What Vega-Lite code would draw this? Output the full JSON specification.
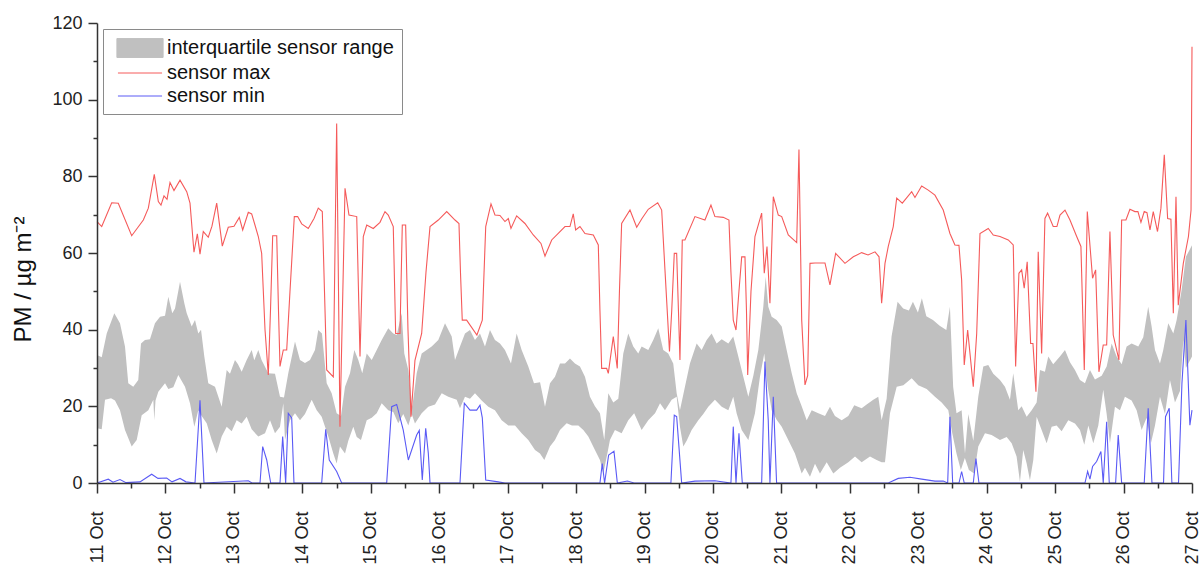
{
 "$schema": "https://vega.github.io/schema/vega-lite/v6.json",
 "width": 1095, "height": 460,
 "autosize": "none",
 "padding": {"left": 97, "top": 23, "right": 8, "bottom": 84},
 "background": "white",
 "config": {"view": {"stroke": null}, "font": "Liberation Sans"},
 "datasets": {
  "q3": [
   {"d":11.0,"v":33.4},{"d":11.069,"v":32.8},{"d":11.142,"v":39},{"d":11.253,"v":44.3},{"d":11.336,"v":41.7},{"d":11.409,"v":35.6},{"d":11.457,"v":26},{"d":11.53,"v":25.1},{"d":11.603,"v":26.9},{"d":11.643,"v":36.4},{"d":11.701,"v":37.3},{"d":11.774,"v":37.5},{"d":11.847,"v":41.7},{"d":11.921,"v":43.4},{"d":11.994,"v":43.6},{"d":12.042,"v":48.6},{"d":12.1,"v":44.3},{"d":12.14,"v":45.5},{"d":12.213,"v":52.5},{"d":12.276,"v":46.9},{"d":12.311,"v":44.3},{"d":12.384,"v":40.8},{"d":12.432,"v":42.5},{"d":12.48,"v":39},{"d":12.52,"v":40},{"d":12.568,"v":33},{"d":12.626,"v":26},{"d":12.724,"v":25.1},{"d":12.822,"v":19.9},{"d":12.895,"v":29.5},{"d":12.943,"v":28.5},{"d":13.016,"v":32.1},{"d":13.06,"v":31},{"d":13.114,"v":29},{"d":13.187,"v":32.1},{"d":13.26,"v":34.7},{"d":13.298,"v":32},{"d":13.357,"v":34.7},{"d":13.406,"v":32},{"d":13.503,"v":28.6},{"d":13.601,"v":28.5},{"d":13.674,"v":22.5},{"d":13.732,"v":22.3},{"d":13.795,"v":28.6},{"d":13.893,"v":36.9},{"d":13.966,"v":32.1},{"d":14.039,"v":31.3},{"d":14.112,"v":32.1},{"d":14.185,"v":34.7},{"d":14.233,"v":39.9},{"d":14.287,"v":39},{"d":14.356,"v":26},{"d":14.429,"v":23.4},{"d":14.502,"v":18.2},{"d":14.565,"v":17.5},{"d":14.624,"v":25.1},{"d":14.697,"v":28.6},{"d":14.76,"v":34.7},{"d":14.818,"v":32.1},{"d":14.876,"v":28.6},{"d":14.941,"v":33.8},{"d":15.014,"v":32.1},{"d":15.087,"v":34.7},{"d":15.16,"v":37.3},{"d":15.256,"v":40.4},{"d":15.329,"v":39},{"d":15.379,"v":38.6},{"d":15.452,"v":44.3},{"d":15.49,"v":33.8},{"d":15.549,"v":29.5},{"d":15.607,"v":19.9},{"d":15.671,"v":28.6},{"d":15.744,"v":33.8},{"d":15.817,"v":34.7},{"d":15.89,"v":35.6},{"d":15.987,"v":37.3},{"d":16.085,"v":41.7},{"d":16.183,"v":38.2},{"d":16.231,"v":32.1},{"d":16.304,"v":35.6},{"d":16.377,"v":39},{"d":16.45,"v":39.9},{"d":16.523,"v":37.3},{"d":16.596,"v":39},{"d":16.669,"v":35.6},{"d":16.742,"v":39.9},{"d":16.815,"v":37.3},{"d":16.888,"v":36.4},{"d":16.961,"v":34.7},{"d":17.049,"v":31.2},{"d":17.132,"v":39},{"d":17.205,"v":34.7},{"d":17.302,"v":30.4},{"d":17.385,"v":26},{"d":17.474,"v":26.3},{"d":17.546,"v":19.9},{"d":17.619,"v":26},{"d":17.692,"v":27.7},{"d":17.765,"v":31.2},{"d":17.838,"v":31.2},{"d":17.911,"v":32.5},{"d":17.984,"v":31.2},{"d":18.057,"v":30.4},{"d":18.13,"v":27.7},{"d":18.203,"v":22.5},{"d":18.276,"v":20},{"d":18.349,"v":18.2},{"d":18.412,"v":11.2},{"d":18.471,"v":23.4},{"d":18.544,"v":21},{"d":18.617,"v":22},{"d":18.69,"v":33.8},{"d":18.763,"v":39},{"d":18.836,"v":35.6},{"d":18.909,"v":33.8},{"d":18.958,"v":35.6},{"d":19.055,"v":34.7},{"d":19.128,"v":37.3},{"d":19.201,"v":40.4},{"d":19.274,"v":34.7},{"d":19.347,"v":33.8},{"d":19.42,"v":31.2},{"d":19.47,"v":23.4},{"d":19.518,"v":19},{"d":19.591,"v":25.1},{"d":19.664,"v":31.2},{"d":19.762,"v":36.4},{"d":19.835,"v":34.7},{"d":19.908,"v":37.3},{"d":19.981,"v":39},{"d":20.054,"v":36.4},{"d":20.128,"v":37.5},{"d":20.225,"v":36.4},{"d":20.297,"v":38.2},{"d":20.371,"v":33},{"d":20.444,"v":27.7},{"d":20.517,"v":22.5},{"d":20.59,"v":28},{"d":20.663,"v":34.7},{"d":20.736,"v":46},{"d":20.771,"v":53.8},{"d":20.809,"v":46},{"d":20.858,"v":43.4},{"d":20.931,"v":42.5},{"d":21.005,"v":40.8},{"d":21.077,"v":34.7},{"d":21.151,"v":28.6},{"d":21.224,"v":23.4},{"d":21.297,"v":20},{"d":21.37,"v":16.4},{"d":21.443,"v":19},{"d":21.54,"v":18.2},{"d":21.637,"v":17.5},{"d":21.71,"v":19.9},{"d":21.783,"v":17.5},{"d":21.881,"v":16.4},{"d":21.978,"v":17.5},{"d":22.065,"v":20.3},{"d":22.173,"v":19.5},{"d":22.246,"v":20.5},{"d":22.343,"v":21.7},{"d":22.416,"v":22.5},{"d":22.465,"v":16.4},{"d":22.538,"v":22},{"d":22.61,"v":38.2},{"d":22.698,"v":47.3},{"d":22.78,"v":45.5},{"d":22.863,"v":45},{"d":22.922,"v":47.3},{"d":22.995,"v":44.5},{"d":23.053,"v":48.2},{"d":23.118,"v":43.5},{"d":23.215,"v":42.5},{"d":23.313,"v":41},{"d":23.41,"v":39.9},{"d":23.463,"v":46},{"d":23.51,"v":25.1},{"d":23.559,"v":18.2},{"d":23.634,"v":19},{"d":23.683,"v":7.7},{"d":23.731,"v":18},{"d":23.804,"v":11},{"d":23.877,"v":22.5},{"d":23.95,"v":30.4},{"d":24.023,"v":30.8},{"d":24.096,"v":28.5},{"d":24.194,"v":26.9},{"d":24.267,"v":25.1},{"d":24.34,"v":21.7},{"d":24.388,"v":28.6},{"d":24.461,"v":19},{"d":24.511,"v":20},{"d":24.584,"v":17.3},{"d":24.657,"v":19},{"d":24.73,"v":21},{"d":24.778,"v":29.5},{"d":24.851,"v":29},{"d":24.9,"v":33},{"d":24.972,"v":31},{"d":25.07,"v":33},{"d":25.144,"v":34.7},{"d":25.217,"v":31.5},{"d":25.29,"v":29.5},{"d":25.363,"v":26.9},{"d":25.436,"v":26},{"d":25.509,"v":29.5},{"d":25.582,"v":27},{"d":25.68,"v":28},{"d":25.753,"v":30.4},{"d":25.826,"v":36.4},{"d":25.899,"v":33},{"d":25.972,"v":31},{"d":26.045,"v":35.6},{"d":26.118,"v":36.4},{"d":26.215,"v":35.6},{"d":26.288,"v":38},{"d":26.36,"v":46},{"d":26.41,"v":40.8},{"d":26.459,"v":34.7},{"d":26.532,"v":31.2},{"d":26.58,"v":34.7},{"d":26.653,"v":41.7},{"d":26.727,"v":39},{"d":26.776,"v":42.5},{"d":26.849,"v":50.4},{"d":26.911,"v":59},{"d":27.0,"v":62}
  ],
  "q1": [
   {"d":11.0,"v":14.3},{"d":11.069,"v":14},{"d":11.117,"v":21.7},{"d":11.205,"v":22.1},{"d":11.263,"v":21.5},{"d":11.336,"v":19},{"d":11.409,"v":13.8},{"d":11.507,"v":9.5},{"d":11.58,"v":11.2},{"d":11.653,"v":17.7},{"d":11.75,"v":19},{"d":11.823,"v":21.7},{"d":11.837,"v":16.4},{"d":11.855,"v":21.5},{"d":11.896,"v":23.8},{"d":11.994,"v":26},{"d":12.042,"v":24.5},{"d":12.115,"v":25},{"d":12.188,"v":28.2},{"d":12.286,"v":25.1},{"d":12.359,"v":20.8},{"d":12.422,"v":14.7},{"d":12.48,"v":19},{"d":12.53,"v":17.5},{"d":12.603,"v":15.6},{"d":12.676,"v":11.2},{"d":12.749,"v":7.7},{"d":12.822,"v":12.1},{"d":12.895,"v":14.7},{"d":12.968,"v":13.5},{"d":13.041,"v":16.4},{"d":13.114,"v":15.5},{"d":13.187,"v":17.3},{"d":13.26,"v":14},{"d":13.357,"v":12.1},{"d":13.455,"v":13},{"d":13.528,"v":16.4},{"d":13.601,"v":13},{"d":13.674,"v":14.7},{"d":13.722,"v":20.8},{"d":13.747,"v":11.2},{"d":13.82,"v":16.4},{"d":13.893,"v":18.2},{"d":13.966,"v":16.4},{"d":14.039,"v":18},{"d":14.137,"v":21.7},{"d":14.21,"v":19},{"d":14.283,"v":17.3},{"d":14.38,"v":12.1},{"d":14.453,"v":7.7},{"d":14.502,"v":5.1},{"d":14.55,"v":9.5},{"d":14.624,"v":7.7},{"d":14.672,"v":11},{"d":14.745,"v":14.7},{"d":14.795,"v":12},{"d":14.857,"v":11.2},{"d":14.941,"v":16.4},{"d":15.014,"v":17},{"d":15.087,"v":18.2},{"d":15.16,"v":20.8},{"d":15.256,"v":19},{"d":15.329,"v":18.5},{"d":15.402,"v":15.6},{"d":15.475,"v":18},{"d":15.549,"v":15},{"d":15.598,"v":18},{"d":15.646,"v":15.5},{"d":15.744,"v":18.2},{"d":15.841,"v":19.9},{"d":15.939,"v":20.5},{"d":16.037,"v":23.4},{"d":16.133,"v":22.5},{"d":16.256,"v":21.7},{"d":16.304,"v":19.5},{"d":16.377,"v":22.5},{"d":16.45,"v":22},{"d":16.523,"v":23.4},{"d":16.621,"v":21.5},{"d":16.718,"v":19.9},{"d":16.815,"v":19},{"d":16.913,"v":16.4},{"d":17.01,"v":15},{"d":17.108,"v":15},{"d":17.205,"v":13},{"d":17.302,"v":11.2},{"d":17.4,"v":8.6},{"d":17.473,"v":7.7},{"d":17.536,"v":6},{"d":17.619,"v":9.5},{"d":17.692,"v":11.2},{"d":17.765,"v":13.8},{"d":17.863,"v":15.6},{"d":17.94,"v":15},{"d":18.033,"v":15},{"d":18.106,"v":13.8},{"d":18.179,"v":12.1},{"d":18.276,"v":8.6},{"d":18.349,"v":6},{"d":18.398,"v":2.5},{"d":18.461,"v":8},{"d":18.495,"v":11.2},{"d":18.568,"v":13.8},{"d":18.666,"v":13},{"d":18.763,"v":16.4},{"d":18.849,"v":18.2},{"d":18.958,"v":13.8},{"d":19.055,"v":16.4},{"d":19.154,"v":18.2},{"d":19.227,"v":20.8},{"d":19.299,"v":19},{"d":19.397,"v":21.7},{"d":19.47,"v":22.5},{"d":19.518,"v":14.7},{"d":19.567,"v":9.5},{"d":19.616,"v":11},{"d":19.689,"v":13.8},{"d":19.786,"v":16.4},{"d":19.859,"v":18},{"d":19.932,"v":19.9},{"d":20.029,"v":21.7},{"d":20.128,"v":19.9},{"d":20.225,"v":19},{"d":20.297,"v":22.5},{"d":20.346,"v":18.2},{"d":20.42,"v":13.8},{"d":20.517,"v":11.2},{"d":20.614,"v":18.2},{"d":20.687,"v":27.7},{"d":20.75,"v":33.8},{"d":20.8,"v":25.1},{"d":20.858,"v":19},{"d":20.931,"v":16.5},{"d":21.005,"v":14.7},{"d":21.101,"v":11.2},{"d":21.198,"v":7.7},{"d":21.297,"v":2.5},{"d":21.345,"v":4},{"d":21.418,"v":1.6},{"d":21.491,"v":5},{"d":21.564,"v":2.5},{"d":21.662,"v":5.4},{"d":21.759,"v":2.5},{"d":21.856,"v":4},{"d":21.978,"v":5.4},{"d":22.076,"v":6.9},{"d":22.173,"v":5.4},{"d":22.295,"v":6.9},{"d":22.392,"v":6},{"d":22.465,"v":5.4},{"d":22.514,"v":5.4},{"d":22.587,"v":18.2},{"d":22.685,"v":25.1},{"d":22.782,"v":25.5},{"d":22.904,"v":27.3},{"d":23.0,"v":25.5},{"d":23.123,"v":24.5},{"d":23.244,"v":22.5},{"d":23.342,"v":21},{"d":23.439,"v":19},{"d":23.497,"v":13},{"d":23.559,"v":7.7},{"d":23.622,"v":3.4},{"d":23.681,"v":6.5},{"d":23.74,"v":3.4},{"d":23.818,"v":2.5},{"d":23.877,"v":9.5},{"d":23.975,"v":13},{"d":24.072,"v":12.5},{"d":24.194,"v":11.2},{"d":24.292,"v":12},{"d":24.365,"v":10.4},{"d":24.437,"v":6.9},{"d":24.486,"v":0.3},{"d":24.534,"v":8.6},{"d":24.584,"v":5.1},{"d":24.632,"v":0.7},{"d":24.681,"v":6},{"d":24.73,"v":17.3},{"d":24.803,"v":13.8},{"d":24.876,"v":10.4},{"d":24.949,"v":14.7},{"d":25.022,"v":15},{"d":25.095,"v":13.5},{"d":25.192,"v":16.4},{"d":25.29,"v":15.5},{"d":25.363,"v":13.8},{"d":25.426,"v":10},{"d":25.485,"v":15},{"d":25.558,"v":10.4},{"d":25.631,"v":15},{"d":25.703,"v":24.3},{"d":25.753,"v":18},{"d":25.801,"v":10.4},{"d":25.874,"v":19.9},{"d":25.947,"v":19},{"d":26.02,"v":22.5},{"d":26.118,"v":21.5},{"d":26.191,"v":19},{"d":26.264,"v":13.8},{"d":26.337,"v":17},{"d":26.4,"v":10.4},{"d":26.459,"v":15},{"d":26.532,"v":22.5},{"d":26.605,"v":18},{"d":26.678,"v":26.9},{"d":26.751,"v":21},{"d":26.824,"v":24},{"d":26.873,"v":37.3},{"d":26.911,"v":30},{"d":27.0,"v":33}
  ],
  "max": [
   {"d":11.0,"v":68.2},{"d":11.069,"v":66.9},{"d":11.215,"v":73.1},{"d":11.311,"v":73},{"d":11.507,"v":64.5},{"d":11.677,"v":68.6},{"d":11.75,"v":71.7},{"d":11.837,"v":80.5},{"d":11.896,"v":73.4},{"d":11.935,"v":72.5},{"d":11.979,"v":74.9},{"d":12.023,"v":74},{"d":12.067,"v":78.4},{"d":12.125,"v":76.3},{"d":12.213,"v":79},{"d":12.311,"v":76},{"d":12.359,"v":73},{"d":12.417,"v":60.2},{"d":12.466,"v":65},{"d":12.505,"v":59.7},{"d":12.553,"v":65.6},{"d":12.626,"v":64.1},{"d":12.68,"v":67},{"d":12.749,"v":73},{"d":12.831,"v":61.8},{"d":12.918,"v":66.7},{"d":13.002,"v":67},{"d":13.079,"v":69.3},{"d":13.129,"v":66},{"d":13.211,"v":70.6},{"d":13.26,"v":70.2},{"d":13.308,"v":67.3},{"d":13.357,"v":64.3},{"d":13.406,"v":59.9},{"d":13.455,"v":40},{"d":13.503,"v":28.2},{"d":13.535,"v":45},{"d":13.567,"v":64.5},{"d":13.626,"v":64.5},{"d":13.652,"v":45},{"d":13.674,"v":30.4},{"d":13.722,"v":34.7},{"d":13.772,"v":34.7},{"d":13.82,"v":50},{"d":13.883,"v":69.5},{"d":13.932,"v":69.5},{"d":13.991,"v":67.6},{"d":14.087,"v":66.4},{"d":14.171,"v":69},{"d":14.233,"v":71.7},{"d":14.292,"v":70.8},{"d":14.324,"v":50},{"d":14.356,"v":29.5},{"d":14.453,"v":27.7},{"d":14.502,"v":93.8},{"d":14.529,"v":50},{"d":14.55,"v":14.7},{"d":14.624,"v":76.9},{"d":14.682,"v":69.9},{"d":14.795,"v":69.5},{"d":14.821,"v":50},{"d":14.843,"v":33},{"d":14.891,"v":64.3},{"d":14.941,"v":67.3},{"d":15.037,"v":66.4},{"d":15.135,"v":68},{"d":15.208,"v":70.8},{"d":15.256,"v":69.9},{"d":15.329,"v":66.9},{"d":15.364,"v":39},{"d":15.427,"v":39},{"d":15.461,"v":67.3},{"d":15.51,"v":67.3},{"d":15.544,"v":40},{"d":15.588,"v":17.3},{"d":15.646,"v":32},{"d":15.744,"v":39},{"d":15.807,"v":55},{"d":15.866,"v":66.9},{"d":15.987,"v":68.6},{"d":16.11,"v":70.8},{"d":16.231,"v":68.6},{"d":16.289,"v":67.7},{"d":16.311,"v":55},{"d":16.337,"v":42.5},{"d":16.401,"v":42.5},{"d":16.551,"v":38.6},{"d":16.63,"v":42.5},{"d":16.68,"v":66.9},{"d":16.757,"v":72.8},{"d":16.815,"v":69.9},{"d":16.888,"v":69.8},{"d":16.961,"v":68.2},{"d":17.01,"v":69},{"d":17.049,"v":66.4},{"d":17.132,"v":69.7},{"d":17.253,"v":67.7},{"d":17.375,"v":64.7},{"d":17.487,"v":62.5},{"d":17.546,"v":59.2},{"d":17.644,"v":63.4},{"d":17.74,"v":65.1},{"d":17.838,"v":66.9},{"d":17.911,"v":66.9},{"d":17.959,"v":70.2},{"d":17.994,"v":66},{"d":18.057,"v":66.9},{"d":18.13,"v":65.1},{"d":18.252,"v":64.7},{"d":18.325,"v":62.1},{"d":18.349,"v":45},{"d":18.374,"v":29.9},{"d":18.447,"v":29.9},{"d":18.471,"v":28.6},{"d":18.544,"v":38.2},{"d":18.602,"v":29.9},{"d":18.634,"v":50},{"d":18.666,"v":67.7},{"d":18.788,"v":71.2},{"d":18.886,"v":66.7},{"d":18.963,"v":69},{"d":19.055,"v":71.4},{"d":19.193,"v":73.1},{"d":19.251,"v":71.2},{"d":19.299,"v":55.6},{"d":19.365,"v":34.3},{"d":19.398,"v":45},{"d":19.435,"v":59.9},{"d":19.47,"v":59.9},{"d":19.496,"v":45},{"d":19.518,"v":32.1},{"d":19.552,"v":63.4},{"d":19.591,"v":63.4},{"d":19.737,"v":69.5},{"d":19.883,"v":68.6},{"d":19.971,"v":72.5},{"d":20.029,"v":69.5},{"d":20.151,"v":69.3},{"d":20.234,"v":68.6},{"d":20.263,"v":55},{"d":20.297,"v":42.5},{"d":20.337,"v":39.9},{"d":20.38,"v":50},{"d":20.42,"v":59},{"d":20.468,"v":59},{"d":20.49,"v":45},{"d":20.508,"v":28.2},{"d":20.556,"v":50},{"d":20.614,"v":64.3},{"d":20.712,"v":70.4},{"d":20.75,"v":54.7},{"d":20.79,"v":61.7},{"d":20.833,"v":46.9},{"d":20.882,"v":74.7},{"d":20.955,"v":69.9},{"d":21.005,"v":69.5},{"d":21.101,"v":64.7},{"d":21.224,"v":62.7},{"d":21.257,"v":87},{"d":21.297,"v":42.5},{"d":21.345,"v":25.6},{"d":21.384,"v":28},{"d":21.418,"v":57.3},{"d":21.491,"v":57.4},{"d":21.637,"v":57.4},{"d":21.71,"v":51.7},{"d":21.793,"v":59.9},{"d":21.929,"v":57.3},{"d":22.051,"v":59},{"d":22.173,"v":60.1},{"d":22.266,"v":59.5},{"d":22.368,"v":60.3},{"d":22.427,"v":59},{"d":22.465,"v":46.9},{"d":22.514,"v":57.3},{"d":22.562,"v":61.7},{"d":22.635,"v":66.9},{"d":22.685,"v":74.3},{"d":22.767,"v":73},{"d":22.904,"v":76},{"d":22.952,"v":74.5},{"d":23.05,"v":77.5},{"d":23.146,"v":76.4},{"d":23.244,"v":75.1},{"d":23.365,"v":71.2},{"d":23.463,"v":65.1},{"d":23.536,"v":62.1},{"d":23.595,"v":62},{"d":23.634,"v":53},{"d":23.672,"v":30.8},{"d":23.722,"v":39.9},{"d":23.804,"v":25.1},{"d":23.854,"v":39},{"d":23.902,"v":65.1},{"d":24.023,"v":66.4},{"d":24.096,"v":64.7},{"d":24.194,"v":64.3},{"d":24.315,"v":63.4},{"d":24.388,"v":62.1},{"d":24.423,"v":30.4},{"d":24.471,"v":54.7},{"d":24.511,"v":55.6},{"d":24.548,"v":50.8},{"d":24.592,"v":57.7},{"d":24.642,"v":36.4},{"d":24.676,"v":36.4},{"d":24.72,"v":23.8},{"d":24.753,"v":60.3},{"d":24.803,"v":33.8},{"d":24.851,"v":69},{"d":24.89,"v":70.4},{"d":24.972,"v":66.9},{"d":25.026,"v":66.9},{"d":25.071,"v":69.9},{"d":25.144,"v":71.2},{"d":25.217,"v":68.6},{"d":25.315,"v":64.3},{"d":25.377,"v":61.7},{"d":25.426,"v":29.5},{"d":25.47,"v":70.8},{"d":25.547,"v":53.4},{"d":25.592,"v":55.6},{"d":25.64,"v":29},{"d":25.703,"v":36},{"d":25.753,"v":36},{"d":25.801,"v":65.6},{"d":25.849,"v":38.6},{"d":25.932,"v":32.1},{"d":25.972,"v":68.6},{"d":26.035,"v":68.6},{"d":26.093,"v":71.4},{"d":26.166,"v":70.8},{"d":26.21,"v":70.8},{"d":26.254,"v":68},{"d":26.302,"v":70.8},{"d":26.342,"v":70.5},{"d":26.386,"v":66},{"d":26.434,"v":70.8},{"d":26.496,"v":65.6},{"d":26.546,"v":71.7},{"d":26.595,"v":85.6},{"d":26.644,"v":69},{"d":26.692,"v":68.8},{"d":26.727,"v":44.3},{"d":26.766,"v":74.7},{"d":26.799,"v":46.4},{"d":26.873,"v":57.3},{"d":26.948,"v":64.3},{"d":26.986,"v":71.2},{"d":27.0,"v":113.8}
  ],
  "min": [
   {"d":11.0,"v":0},{"d":11.165,"v":1},{"d":11.234,"v":0.2},{"d":11.336,"v":0.9},{"d":11.424,"v":0.1},{"d":11.628,"v":0.3},{"d":11.799,"v":2.3},{"d":11.891,"v":1.2},{"d":12.018,"v":1.3},{"d":12.096,"v":0.3},{"d":12.213,"v":1.2},{"d":12.3,"v":0.3},{"d":12.432,"v":0},{"d":12.505,"v":21.6},{"d":12.563,"v":0},{"d":13.211,"v":0.6},{"d":13.265,"v":0},{"d":13.382,"v":0},{"d":13.421,"v":9.5},{"d":13.48,"v":6},{"d":13.538,"v":0},{"d":13.674,"v":0},{"d":13.713,"v":12.1},{"d":13.757,"v":0},{"d":13.795,"v":18.2},{"d":13.845,"v":17},{"d":13.878,"v":0},{"d":14.283,"v":0},{"d":14.342,"v":14},{"d":14.394,"v":6},{"d":14.502,"v":3},{"d":14.575,"v":0},{"d":15.233,"v":0},{"d":15.306,"v":19.9},{"d":15.379,"v":20.5},{"d":15.475,"v":13.8},{"d":15.549,"v":6},{"d":15.671,"v":12.5},{"d":15.709,"v":13.7},{"d":15.753,"v":0.8},{"d":15.803,"v":14.3},{"d":15.841,"v":7.8},{"d":15.866,"v":0},{"d":16.304,"v":0},{"d":16.367,"v":20.8},{"d":16.45,"v":19},{"d":16.548,"v":19},{"d":16.596,"v":20.3},{"d":16.63,"v":17},{"d":16.68,"v":0.8},{"d":16.863,"v":0.3},{"d":16.961,"v":0},{"d":18.349,"v":0},{"d":18.383,"v":5.1},{"d":18.417,"v":0},{"d":18.476,"v":7.3},{"d":18.554,"v":8.3},{"d":18.603,"v":0},{"d":18.75,"v":0.5},{"d":18.848,"v":0},{"d":19.386,"v":0},{"d":19.435,"v":17.7},{"d":19.47,"v":17.3},{"d":19.543,"v":0},{"d":19.737,"v":0.5},{"d":20.029,"v":0.6},{"d":20.263,"v":0},{"d":20.297,"v":14.7},{"d":20.337,"v":0},{"d":20.38,"v":13},{"d":20.429,"v":0},{"d":20.712,"v":0},{"d":20.76,"v":31.7},{"d":20.808,"v":16.4},{"d":20.833,"v":0},{"d":20.882,"v":22.5},{"d":20.93,"v":0},{"d":22.562,"v":0},{"d":22.708,"v":1.2},{"d":22.879,"v":1.5},{"d":23.05,"v":1},{"d":23.244,"v":0.5},{"d":23.365,"v":0.5},{"d":23.43,"v":0},{"d":23.463,"v":17.3},{"d":23.503,"v":0},{"d":23.595,"v":0},{"d":23.634,"v":3},{"d":23.672,"v":0},{"d":23.804,"v":0},{"d":23.843,"v":6.4},{"d":23.887,"v":0},{"d":25.436,"v":0},{"d":25.475,"v":3},{"d":25.509,"v":1},{"d":25.547,"v":4.3},{"d":25.606,"v":5.6},{"d":25.669,"v":8.2},{"d":25.703,"v":0},{"d":25.753,"v":16},{"d":25.791,"v":0},{"d":25.884,"v":0},{"d":25.922,"v":12.5},{"d":25.972,"v":0},{"d":26.302,"v":0},{"d":26.36,"v":19.5},{"d":26.415,"v":0},{"d":26.584,"v":0},{"d":26.613,"v":17.3},{"d":26.667,"v":19.5},{"d":26.706,"v":0},{"d":26.803,"v":0},{"d":26.853,"v":26},{"d":26.911,"v":42.5},{"d":26.969,"v":15.1},{"d":27.0,"v":19}
  ]
 },
 "encoding": {
  "x": {"field": "d", "type": "quantitative",
   "scale": {"domain": [11, 27], "nice": false, "zero": false},
   "axis": {"values": [11,11.5,12,12.5,13,13.5,14,14.5,15,15.5,16,16.5,17,17.5,18,18.5,19,19.5,20,20.5,21,21.5,22,22.5,23,23.5,24,24.5,25,25.5,26,26.5,27],
    "labelExpr": "datum.value % 1 === 0 ? datum.value + ' Oct' : ''",
    "labelAngle": -90, "labelAlign": "right", "labelBaseline": "middle",
    "labelFontSize": 18, "labelColor": "#222", "labelFont": "Liberation Sans",
    "labelPadding": 18, "labelOverlap": false, "labelFlush": false, "labelBound": false,
    "tickSize": {"condition": {"test": "datum.value % 1 !== 0", "value": 5}, "value": 10},
    "tickColor": "#333", "tickWidth": 1.5, "domainColor": "#333", "domainWidth": 1.5,
    "grid": false, "title": null, "zindex": 1}},
  "y": {"field": "v", "type": "quantitative",
   "scale": {"domain": [0, 120], "nice": false},
   "axis": {"values": [0,10,20,30,40,50,60,70,80,90,100,110,120],
    "labelExpr": "datum.value % 20 === 0 ? datum.label : ''",
    "labelFontSize": 18, "labelColor": "#222", "labelFont": "Liberation Sans",
    "labelPadding": 6, "labelOverlap": false, "labelFlush": false,
    "tickSize": {"condition": {"test": "datum.value % 20 !== 0", "value": 4}, "value": 9},
    "tickColor": "#333", "tickWidth": 1.5, "domainColor": "#333", "domainWidth": 1.5,
    "grid": false, "zindex": 1,
    "title": "PM / µg m⁻²", "titleFontSize": 24, "titleFontWeight": "normal", "titleColor": "#111", "titleFont": "Liberation Sans", "titlePadding": 16, "titleY": 256, "titleAlign": "center"}}
 },
 "layer": [
  {"data": {"name": "q3"}, "mark": {"type": "area"},
   "encoding": {"color": {"datum": "interquartile sensor range",
     "scale": {"domain": ["interquartile sensor range", "sensor max", "sensor min"], "range": ["#c0c0c0", "#f55a5a", "#5a5af5"]},
     "legend": {"title": null, "orient": "none", "legendX": 6, "legendY": 6,
      "fillColor": "white", "strokeColor": "#8a8a8a", "padding": 8,
      "labelFont": "Liberation Sans", "labelFontSize": 20, "labelColor": "#111", "labelLimit": 400,
      "symbolSize": 441, "symbolStrokeWidth": 1, "symbolOffset": 18, "labelOffset": 16, "rowPadding": 2,
      "symbolType": "M-2.2,-0.9H2.2V0.9H-2.2Z",
      "encode": {"symbols": {"update": {
        "shape": {"signal": "datum.value === 'interquartile sensor range' ? 'M-2.2,-0.9H2.2V0.9H-2.2Z' : 'M-2.1,0H2.1'"},
        "fill": {"signal": "datum.value === 'interquartile sensor range' ? '#c0c0c0' : 'transparent'"},
        "stroke": {"signal": "datum.value === 'interquartile sensor range' ? '#707070' : (datum.value === 'sensor max' ? '#f55a5a' : '#5a5af5')"},
        "strokeWidth": {"value": 1},
        "opacity": {"value": 1}}}}}}}},
  {"data": {"name": "q1"}, "mark": {"type": "area", "color": "white"}},
  {"data": {"name": "max"}, "mark": {"type": "line", "strokeWidth": 1.1},
   "encoding": {"color": {"datum": "sensor max"}}},
  {"data": {"name": "min"}, "mark": {"type": "line", "strokeWidth": 1.1},
   "encoding": {"color": {"datum": "sensor min"}}}
 ]
}
